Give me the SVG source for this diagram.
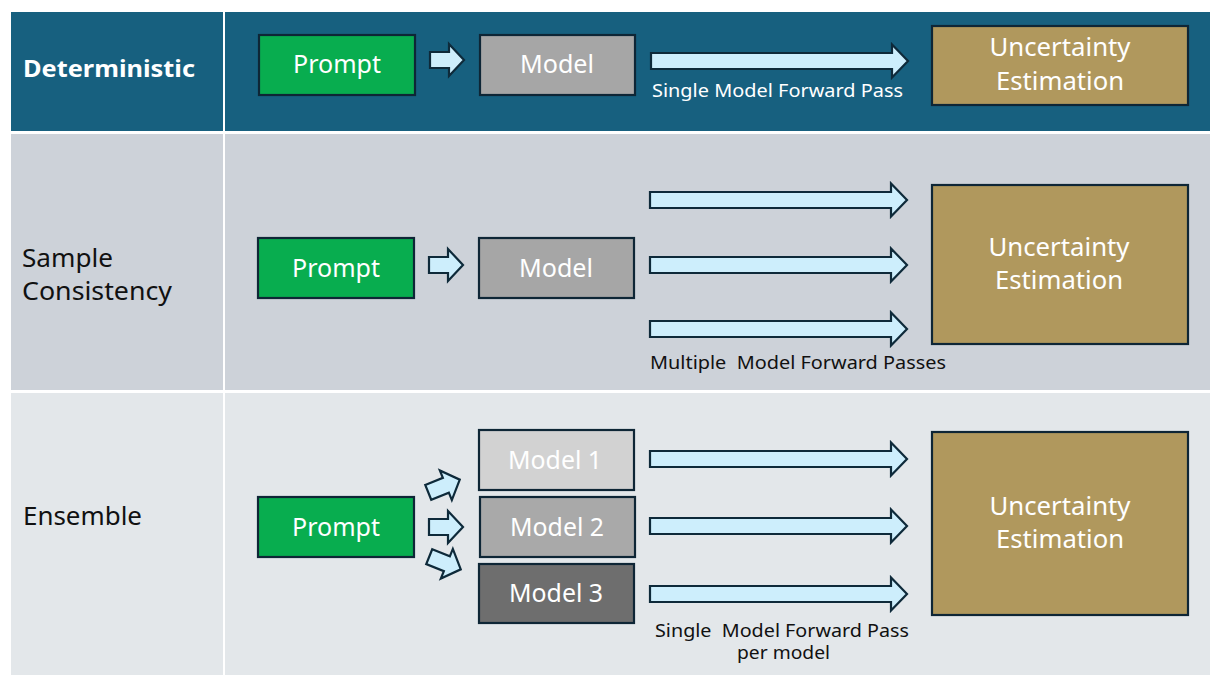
<svg xmlns="http://www.w3.org/2000/svg" xmlns:xlink="http://www.w3.org/1999/xlink" width="1210" height="675" viewBox="0 0 1210 675">
<style>
.box{stroke:#0e2636;stroke-width:2.2}
.prompt{fill:#08ad4f}
.gold{fill:#b0985d}
.arrow{fill:#cdeefc;stroke:#0e2a3a;stroke-width:2.2;stroke-linejoin:miter}
.t{font-family:"Noto Sans","Open Sans","Liberation Sans",sans-serif}
.w{fill:#ffffff}
.k{fill:#111111}
.big{font-size:26px}
.lab{font-size:17.5px}
</style>
<defs>
<path id="sArrow" d="M-17,-8 H2 V-16 L17,0 L2,16 V8 H-17 Z"/>
<path id="lArrow" d="M650,-8 H891 V-16.5 L907,0 L891,16.5 V8 H650 Z"/>
</defs>
<rect width="1210" height="675" fill="#ffffff"/>
<g id="bands">
<rect x="11" y="12" width="212" height="119" fill="#17607f"/>
<rect x="225" y="12" width="985" height="119" fill="#17607f"/>
<rect x="11" y="134" width="212" height="256" fill="#cdd2d9"/>
<rect x="225" y="134" width="985" height="256" fill="#cdd2d9"/>
<rect x="11" y="393" width="212" height="282" fill="#e3e7ea"/>
<rect x="225" y="393" width="985" height="282" fill="#e3e7ea"/>
</g>
<g id="row-labels">
<text class="t w" x="23" y="77" font-size="24" font-weight="bold" textLength="172" lengthAdjust="spacingAndGlyphs">Deterministic</text>
<text class="t k" x="22" y="267" font-size="25" textLength="91" lengthAdjust="spacingAndGlyphs">Sample</text>
<text class="t k" x="22" y="300" font-size="25" textLength="150" lengthAdjust="spacingAndGlyphs">Consistency</text>
<text class="t k" x="23" y="525" font-size="25" textLength="119" lengthAdjust="spacingAndGlyphs">Ensemble</text>
</g>
<g id="prompt1"><rect class="box prompt" x="259" y="35" width="156" height="60"/><text class="t w big" x="337" y="73" text-anchor="middle" textLength="88" lengthAdjust="spacingAndGlyphs">Prompt</text></g>
<g id="model1"><rect class="box" fill="#a6a6a6" x="480" y="35" width="155" height="60"/><text class="t w big" x="557" y="73" text-anchor="middle" textLength="74" lengthAdjust="spacingAndGlyphs">Model</text></g>
<g id="ue1"><rect class="box gold" x="932" y="26" width="256" height="79"/><text class="t w big" x="1060" y="56" text-anchor="middle" textLength="141" lengthAdjust="spacingAndGlyphs">Uncertainty</text><text class="t w big" x="1060" y="90" text-anchor="middle" textLength="128" lengthAdjust="spacingAndGlyphs">Estimation</text></g>
<g id="prompt2"><rect class="box prompt" x="258" y="238" width="156" height="60"/><text class="t w big" x="336" y="277" text-anchor="middle" textLength="88" lengthAdjust="spacingAndGlyphs">Prompt</text></g>
<g id="model2"><rect class="box" fill="#a6a6a6" x="479" y="238" width="155" height="60"/><text class="t w big" x="556" y="277" text-anchor="middle" textLength="74" lengthAdjust="spacingAndGlyphs">Model</text></g>
<g id="ue2"><rect class="box gold" x="932" y="185" width="256" height="159"/><text class="t w big" x="1059" y="256" text-anchor="middle" textLength="141" lengthAdjust="spacingAndGlyphs">Uncertainty</text><text class="t w big" x="1059" y="289" text-anchor="middle" textLength="128" lengthAdjust="spacingAndGlyphs">Estimation</text></g>
<g id="prompt3"><rect class="box prompt" x="258" y="497" width="156" height="60"/><text class="t w big" x="336" y="536" text-anchor="middle" textLength="88" lengthAdjust="spacingAndGlyphs">Prompt</text></g>
<g id="model3-1"><rect class="box" fill="#d2d2d2" x="479" y="430" width="155" height="60"/><text class="t w big" x="555" y="469" text-anchor="middle" textLength="94" lengthAdjust="spacingAndGlyphs">Model 1</text></g>
<g id="model3-2"><rect class="box" fill="#a9a9a9" x="480" y="497" width="155" height="60"/><text class="t w big" x="557" y="536" text-anchor="middle" textLength="94" lengthAdjust="spacingAndGlyphs">Model 2</text></g>
<g id="model3-3"><rect class="box" fill="#6e6e6e" x="479" y="564" width="155" height="59"/><text class="t w big" x="556" y="602" text-anchor="middle" textLength="94" lengthAdjust="spacingAndGlyphs">Model 3</text></g>
<g id="ue3"><rect class="box gold" x="932" y="432" width="256" height="183"/><text class="t w big" x="1060" y="515" text-anchor="middle" textLength="141" lengthAdjust="spacingAndGlyphs">Uncertainty</text><text class="t w big" x="1060" y="548" text-anchor="middle" textLength="128" lengthAdjust="spacingAndGlyphs">Estimation</text></g>
<g id="connectors">
<use xlink:href="#sArrow" class="arrow" transform="translate(447,60)"/>
<use xlink:href="#lArrow" class="arrow" transform="translate(1,61)"/>
<use xlink:href="#sArrow" class="arrow" transform="translate(446,265)"/>
<use xlink:href="#lArrow" class="arrow" transform="translate(0,200)"/>
<use xlink:href="#lArrow" class="arrow" transform="translate(0,265)"/>
<use xlink:href="#lArrow" class="arrow" transform="translate(0,329)"/>
<use xlink:href="#sArrow" class="arrow" transform="translate(444,486) rotate(-22)"/>
<use xlink:href="#sArrow" class="arrow" transform="translate(446,527)"/>
<use xlink:href="#sArrow" class="arrow" transform="translate(445,563) rotate(22)"/>
<use xlink:href="#lArrow" class="arrow" transform="translate(0,459)"/>
<use xlink:href="#lArrow" class="arrow" transform="translate(0,526)"/>
<use xlink:href="#lArrow" class="arrow" transform="translate(0,594)"/>
</g>
<g id="edge-labels">
<text class="t w lab" x="652" y="97" textLength="251" lengthAdjust="spacingAndGlyphs">Single Model Forward Pass</text>
<text class="t k lab" x="650" y="369" textLength="296" lengthAdjust="spacingAndGlyphs" xml:space="preserve">Multiple  Model Forward Passes</text>
<text class="t k lab" x="655" y="637" textLength="254" lengthAdjust="spacingAndGlyphs" xml:space="preserve">Single  Model Forward Pass</text>
<text class="t k lab" x="737" y="659" textLength="93" lengthAdjust="spacingAndGlyphs">per model</text>
</g>
</svg>
